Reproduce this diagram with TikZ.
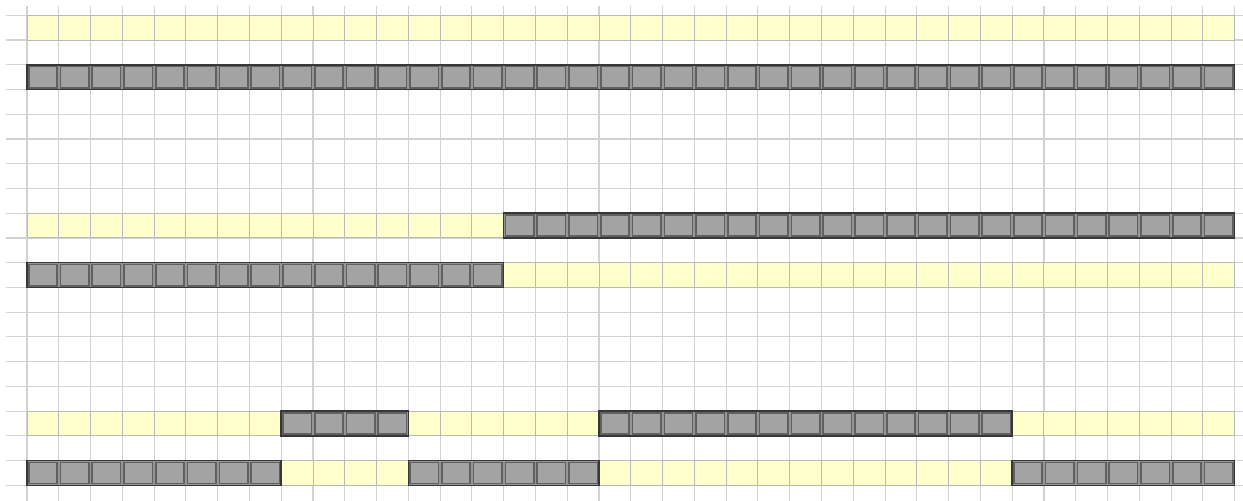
\documentclass[tikz,border=0pt]{standalone}
\usepackage{tikz}
\usetikzlibrary{calc}
\definecolor{GridGray}{RGB}{210, 210, 210}
\definecolor{FreeYellow}{RGB}{255, 255, 204}
\definecolor{FreeEdge}{RGB}{185, 185, 185}
\definecolor{UsedFill}{RGB}{163, 163, 163}
\definecolor{UsedEdge}{RGB}{96, 96, 96}
\definecolor{RunEdge}{RGB}{55, 55, 55}
\definecolor{RunGap}{RGB}{150, 150, 150}
\tikzset{
  gridline/.style={draw=GridGray, line width=0.55pt},
  freecell/.style={fill=FreeYellow, draw=FreeEdge, line width=0.5pt},
  usedrun/.style={fill=RunGap, draw=RunEdge, line width=0.75pt},
  usedcell/.style={fill=UsedFill, draw=UsedEdge, line width=0.8pt},
}
% row, first cell, last cell
\newcommand{\freerun}[3]{\foreach \c in {#2,...,#3}{\draw[freecell] (\c,#1) rectangle (\c+1,#1+1);}}
\newcommand{\usedrun}[3]{%
  \draw[usedrun] (#2,#1) rectangle (#3+1,#1+1);
  \foreach \c in {#2,...,#3}{\draw[usedcell] ([shift={(0.85pt,-0.85pt)}]\c,#1) rectangle ([shift={(-0.85pt,0.85pt)}]\c+1,#1+1);}}

\begin{document}
\begin{tikzpicture}[x=15.89pt, y=-12.37pt]
        \useasboundingbox (-0.8496,-0.6184) rectangle (38.263,19.632);
        
        % Luoi nen
        \foreach \k in {0,...,19} \draw[gridline] (-0.661,\k) -- (38.263,\k);
        \foreach \i in {0,...,38} \draw[gridline] (\i,-0.376) -- (\i,19.632);
        
        % Khoi 1
        \freerun{0}{0}{37}
        \usedrun{2}{0}{37}
        
        % Khoi 2
        \freerun{8}{0}{14}
        \usedrun{8}{15}{37}
        \freerun{10}{15}{37}
        \usedrun{10}{0}{14}
        
        % Khoi 3
        \freerun{16}{0}{7}
        \freerun{16}{12}{17}
        \freerun{16}{31}{37}
        \usedrun{16}{8}{11}
        \usedrun{16}{18}{30}
        \freerun{18}{8}{11}
        \freerun{18}{18}{30}
        \usedrun{18}{0}{7}
        \usedrun{18}{12}{17}
        \usedrun{18}{31}{37}
      \end{tikzpicture}
\end{document}
